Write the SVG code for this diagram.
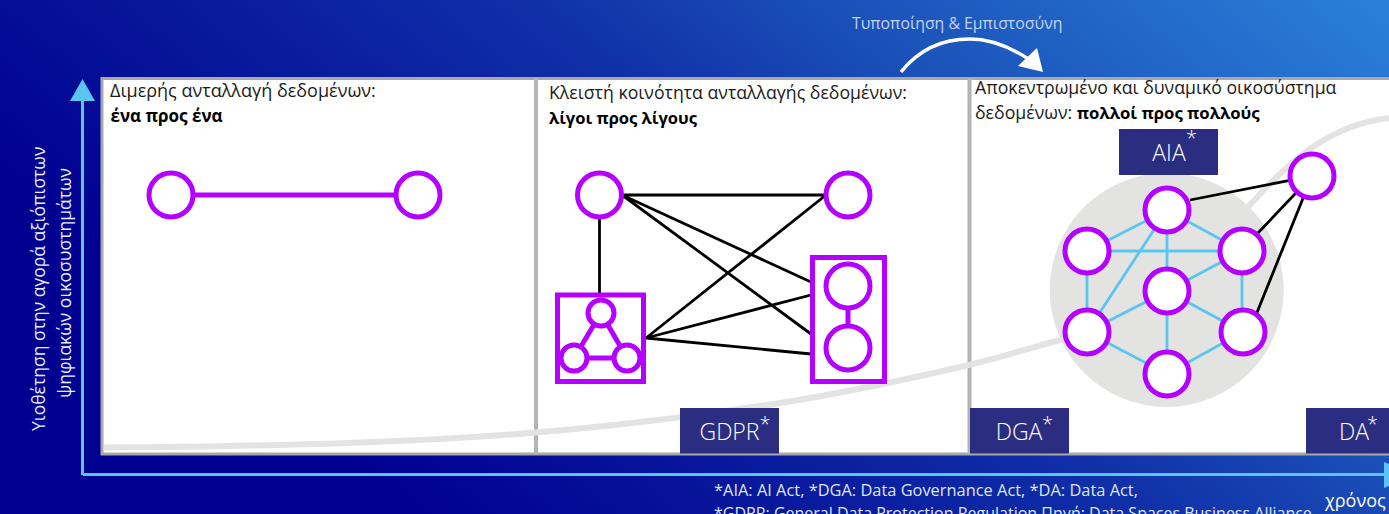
<svg xmlns="http://www.w3.org/2000/svg" width="1389" height="514" viewBox="0 0 1389 514">
<defs>
<linearGradient id="bg" gradientUnits="userSpaceOnUse" x1="-86" y1="104.500" x2="561" y2="-679"><stop offset="0" stop-color="#000090"/><stop offset="0.467" stop-color="#1030a8"/><stop offset="0.647" stop-color="#1a50b8"/><stop offset="1" stop-color="#2a80d8"/></linearGradient>
</defs>
<style>
text{font-family:"Open Sans","Noto Sans",sans-serif}
.t{font-size:17.700px;fill:#1a1a1a}
.b{font-size:16.700px;font-weight:700;fill:#000}
.n{fill:#fff;stroke:#b400ff;stroke-width:5}
.box{fill:#fff;stroke:#b400ff;stroke-width:5}
.p{stroke:#b400ff;stroke-width:5;fill:none}
.k{stroke:#000;stroke-width:2.800;fill:none}
.c{stroke:#5bc5f2;stroke-width:2.800;fill:none}
.law{fill:#2b2e80}
.lt{font-size:23px;font-weight:300;fill:#fff;text-anchor:middle}
.ast{font-size:20px;font-weight:300;fill:#fff}
.w{font-size:17.500px;fill:#e8ecf8}
.f{fill:#dfe5f4}
</style>
<rect width="1389" height="514" fill="url(#bg)"/>
<rect x="102" y="78.500" width="1290" height="375.500" fill="#fff" stroke="#a8a8a8" stroke-width="3"/>
<path d="M536 78V454M969.500 78V454" stroke="#b4b4b4" stroke-width="4"/>
<path id="curve" d="M104 447.500C300 446 420 442 530 433C640 424 720 412 780 403C850 392 900 381 960 367C1000 358 1030 348 1060 340C1130 320 1190 270 1250 205C1290 160 1330 125 1389 118" fill="none" stroke="#e3e3e1" stroke-width="6"/>
<circle cx="1166.700" cy="290" r="117" fill="#e3e3e2"/>
<g id="axes">
<path d="M82.500 475V100" stroke="#5bc5f2" stroke-width="3" fill="none"/>
<path d="M82.500 79L70 101H95Z" fill="#5bc5f2"/>
<path d="M83 474.500H1389" stroke="#5bc5f2" stroke-width="3" fill="none"/>
<path d="M1384 462L1389 464V486L1384 488Z" fill="#5bc5f2"/>
<path d="M901 72C920 48 945 39 970 39C995 39 1015 50 1030 60" fill="none" stroke="#fff" stroke-width="3.500"/>
<path d="M1043 72L1037 48L1018 66Z" fill="#fff"/>
</g>
<g id="connectors">
<path class="p" d="M190 195H398"/>
<path class="k" d="M599.500 217V293M622 195H826M622 195L811 282M622 195L811 334M826 195L646 338M646 338L811 295M646 338L811 354"/>
<path class="c" d="M1087 251L1167 210L1242 251M1087 251H1242M1087 251V332M1242 251V332M1167 210V291M1167 210L1087 332M1087 332L1167 291L1242 251M1167 291L1243 332M1167 291V374M1087 332L1167 374L1243 332"/>
<path class="k" d="M1190 200L1312 176M1258 233L1312 176M1256 315L1312 176"/>
</g>
<g id="panel1">
<text class="t" x="110" y="97" style="font-size:18px">Διμερής ανταλλαγή δεδομένων:</text>
<text class="b" x="110.500" y="122" style="font-size:17px">ένα προς ένα</text>
<circle id="n1a" class="n" cx="171" cy="195" r="22"/>
<circle id="n1b" class="n" cx="418" cy="195" r="22"/>
</g>
<g id="panel2">
<text class="t" x="549" y="99">Κλειστή κοινότητα ανταλλαγής δεδομένων:</text>
<text class="b" x="549" y="124" style="font-size:16.500px">λίγοι προς λίγους</text>
<circle id="n2a" class="n" cx="599.500" cy="195" r="22"/>
<circle id="n2b" class="n" cx="848" cy="195" r="22"/>
<g id="cluster3">
<rect class="box" x="557.500" y="295" width="86" height="86.500"/>
<path class="p" d="M601 313L574 358H627Z"/>
<circle class="n" cx="601" cy="313" r="13"/>
<circle class="n" cx="574" cy="358" r="13"/>
<circle class="n" cx="627" cy="358" r="13"/>
</g>
<g id="cluster2">
<rect class="box" x="812.500" y="257.500" width="72" height="124"/>
<path class="p" d="M848 286V348"/>
<circle class="n" cx="848" cy="286" r="22"/>
<circle class="n" cx="848" cy="348" r="22"/>
</g>
</g>
<g id="panel3">
<text class="t" x="975" y="94">Αποκεντρωμένο και δυναμικό οικοσύστημα</text>
<text class="t" x="975" y="119">δεδομένων: <tspan class="b">πολλοί προς πολλούς</tspan></text>
<circle id="n3a" class="n" cx="1167" cy="210" r="22"/>
<circle id="n3b" class="n" cx="1087" cy="251" r="22"/>
<circle id="n3c" class="n" cx="1242" cy="251" r="22"/>
<circle id="n3d" class="n" cx="1167" cy="291" r="22"/>
<circle id="n3e" class="n" cx="1087" cy="332" r="22"/>
<circle id="n3f" class="n" cx="1243" cy="332" r="22"/>
<circle id="n3g" class="n" cx="1167" cy="374" r="22"/>
<circle id="n3h" class="n" cx="1312" cy="176" r="22"/>
</g>
<g id="gdpr"><rect class="law" x="680" y="408" width="99" height="45.500"/><text class="lt" x="729.500" y="440">GDPR</text><text class="ast" x="759.500" y="431">*</text></g>
<g id="dga"><rect class="law" x="970" y="408" width="99" height="45.500"/><text class="lt" x="1019" y="440">DGA</text><text class="ast" x="1042" y="431">*</text></g>
<g id="da"><rect class="law" x="1306" y="408" width="83" height="45.500"/><text class="lt" x="1354" y="440">DA</text><text class="ast" x="1367" y="431">*</text></g>
<g id="aia"><rect class="law" x="1119" y="129" width="99" height="46"/><text class="lt" x="1169" y="161">AIA</text><text class="ast" x="1186" y="145">*</text></g>
<text x="852" y="29" font-size="15.800" fill="#c4d2ee">Τυποποίηση &amp; Εμπιστοσύνη</text>
<text class="w" transform="translate(45 431) rotate(-90)">Υιοθέτηση στην αγορά αξιόπιστων</text>
<text class="w" transform="translate(71 398) rotate(-90)">ψηφιακών οικοσυστημάτων</text>
<text class="f" x="714" y="496" font-size="16.400">*AIA: AI Act, *DGA: Data Governance Act, *DA: Data Act,</text>
<text class="f" x="714" y="519" font-size="16">*GDPR: General Data Protection Regulation Πηγή: Data Spaces Business Alliance</text>
<text x="1325" y="507" font-size="18" fill="#fff">χρόνος</text>
</svg>
